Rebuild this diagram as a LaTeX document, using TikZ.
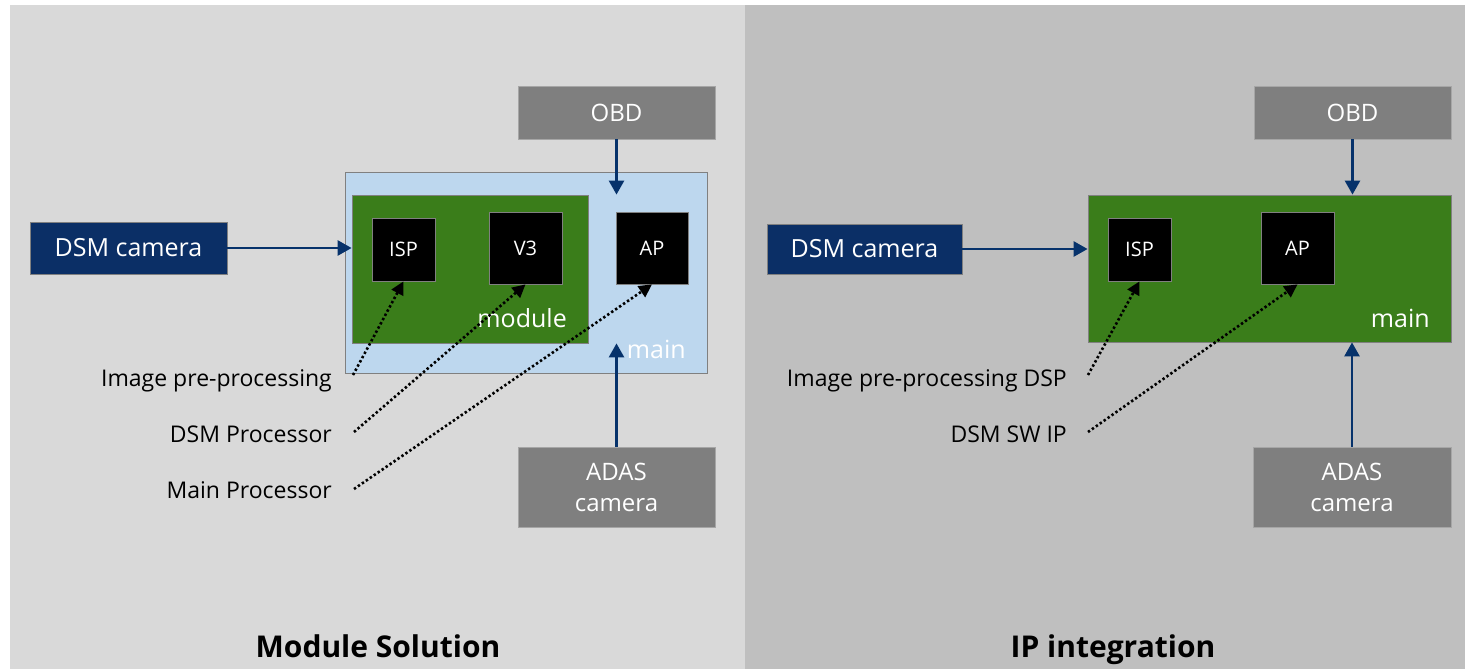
\documentclass[tikz,border=0pt]{standalone}
\usepackage{fontspec}
\setmainfont{Open Sans}
\usetikzlibrary{arrows.meta,calc}
\definecolor{bgL}{HTML}{D9D9D9}
\definecolor{bgR}{HTML}{BFBFBF}
\definecolor{boxgray}{HTML}{7F7F7F}
\definecolor{boxedge}{HTML}{A6A6A6}
\definecolor{navy}{HTML}{0B2F66}
\definecolor{arrowblue}{HTML}{06326B}
\definecolor{lightblue}{HTML}{BDD7EE}
\definecolor{chipgreen}{HTML}{3A7D1A}
\definecolor{edgegray}{HTML}{808080}
\newcommand{\fsz}[1]{\fontsize{#1}{#1}\selectfont}
\tikzset{
  graybox/.style={rectangle, fill=boxgray, draw=boxedge, line width=0.8pt, text=white, inner sep=0pt, font=\fontsize{24}{31}\selectfont, align=center},
  cambox/.style={rectangle, fill=navy, draw=edgegray, line width=0.8pt, text=white, inner sep=0pt, font=\fsz{25}},
  mainblue/.style={rectangle, fill=lightblue, draw=edgegray, line width=0.8pt, inner sep=0pt},
  greenbox/.style={rectangle, fill=chipgreen, draw=edgegray, line width=0.8pt, inner sep=0pt},
  chip/.style={rectangle, fill=black, draw=edgegray, line width=0.8pt, text=white, inner sep=0pt, font=\fsz{20}},
  whitelabel/.style={text=white, inner sep=0pt, font=\fsz{25}},
  sidelabel/.style={text=black, inner sep=0pt, font=\fsz{23}},
  title/.style={text=black, inner sep=0pt, font=\bfseries\fsz{30}},
  feed/.style={draw=arrowblue, line width=2.6pt, -{Triangle[length=14pt,width=15pt]}},
  pointer/.style={draw=black, line width=2.6pt, dash pattern=on 2.4pt off 2.4pt, -{Triangle[length=13pt,width=13pt]}}
}
\begin{document}
\begin{tikzpicture}[x=1pt,y=-1pt]
\useasboundingbox (0,0) rectangle (1465,669);
\fill[white] (0,0) rectangle (1465,669);
\fill[bgL] (10,5) rectangle (745,669);
\fill[bgR] (745,5) rectangle (1465,669);

% ---------- Left panel: Module Solution ----------
\node[graybox, minimum width=197pt, minimum height=53pt] (lobd) at (616.5,112.5) {OBD};
\node[mainblue, minimum width=362pt, minimum height=201pt] (lmain) at (526,272.5) {};
\node[greenbox, minimum width=236pt, minimum height=148pt] (lmod) at (470,269) {};
\node[chip, minimum width=63pt, minimum height=63pt] (lisp) at (403.5,249.5) {ISP};
\node[chip, minimum width=73pt, minimum height=72pt] (lv3) at (525.5,248) {V3};
\node[chip, minimum width=72pt, minimum height=72pt] (lap) at (652,248) {AP};
\node[whitelabel, anchor=base east] (lmodlbl) at (567,327) {module};
\node[whitelabel, anchor=base east] (lmainlbl) at (686,358) {main};
\node[cambox, minimum width=197pt, minimum height=52pt] (lcam) at (128.5,248) {DSM camera};
\node[graybox, minimum width=197pt, minimum height=80pt] (ladas) at (616.5,487) {ADAS\\camera};

\draw[feed] (lcam.east) -- (lcam.east -| lmod.west);
\draw[feed] (lobd.south) -- (lobd.south |- lmod.north);
\draw[feed] (ladas.north) -- (ladas.north |- lmod.south);

\node[sidelabel, anchor=base east] (lt1) at (332,386) {Image pre-processing};
\node[sidelabel, anchor=base east] (lt2) at (332,442) {DSM Processor};
\node[sidelabel, anchor=base east] (lt3) at (332,498) {Main Processor};
\coordinate (ls1) at (353,375);
\coordinate (ls2) at (354,432);
\coordinate (ls3) at (354,489);
\draw[pointer] (ls1) -- (lisp.south);
\draw[pointer] (ls2) -- (lv3.south);
\draw[pointer] (ls3) -- (lap.south);

\node[title, anchor=base] (ltitle) at (378,657) {Module Solution};

% ---------- Right panel: IP integration ----------
\node[graybox, minimum width=197pt, minimum height=53pt] (robd) at (1352.5,112.5) {OBD};
\node[greenbox, minimum width=363pt, minimum height=147pt] (rmain) at (1269.5,268.5) {};
\node[chip, minimum width=63pt, minimum height=63pt] (risp) at (1139.5,249.5) {ISP};
\node[chip, minimum width=73pt, minimum height=72pt] (rap) at (1297.5,248) {AP};
\node[whitelabel, anchor=base east] (rmainlbl) at (1430,327) {main};
\node[cambox, minimum width=195pt, minimum height=50pt] (rcam) at (864.5,249) {DSM camera};
\node[graybox, minimum width=198pt, minimum height=80pt] (radas) at (1352,487) {ADAS\\camera};

\draw[feed] (rcam.east) -- (rcam.east -| rmain.west);
\draw[feed] (robd.south) -- (robd.south |- rmain.north);
\draw[feed] (radas.north) -- (radas.north |- rmain.south);

\node[sidelabel, anchor=base east] (rt1) at (1067,386) {Image pre-processing DSP};
\node[sidelabel, anchor=base east] (rt2) at (1067,442) {DSM SW IP};
\coordinate (rs1) at (1088,375);
\coordinate (rs2) at (1088,432);
\draw[pointer] (rs1) -- (risp.south);
\draw[pointer] (rs2) -- (rap.south);

\node[title, anchor=base] (rtitle) at (1113,657) {IP integration};
\end{tikzpicture}
\end{document}
